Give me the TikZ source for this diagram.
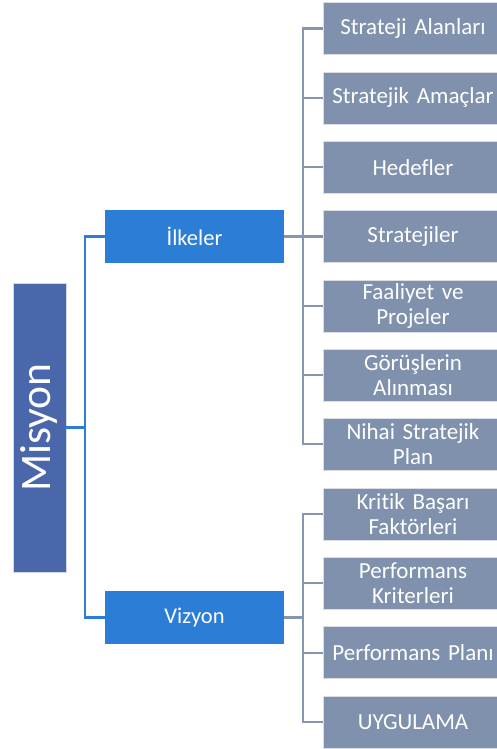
\documentclass[tikz,border=0pt]{standalone}
\usepackage{fontspec}
\setmainfont[Ligatures={NoCommon}]{Carlito}
\usetikzlibrary{positioning}
\definecolor{misyonblue}{RGB}{74,103,172}
\definecolor{headblue}{RGB}{43,125,213}
\definecolor{itemgray}{RGB}{128,145,173}
\definecolor{linkgray}{RGB}{132,151,176}

\begin{document}
\begin{tikzpicture}[
            x=1pt, y=-1pt,
            misyonbox/.style={fill=misyonblue, draw=white!75!misyonblue, rotate=90,
                minimum width=289pt, minimum height=53pt, inner sep=0pt, text=white,
                font=\fontsize{43.5}{46}\selectfont},
            headbox/.style={fill=headblue, minimum width=179pt, minimum height=53pt,
                inner sep=0pt, text=white, font=\fontsize{22.5}{25}\selectfont},
            itembox/.style={fill=itemgray, draw=white!70!itemgray, minimum width=180pt,
                minimum height=52pt, text width=178pt, align=center, inner sep=0pt,
                text=white, font=\fontsize{23}{25}\selectfont},
            mainlink/.style={draw=headblue, line width=2.2pt},
            sublink/.style={draw=linkgray, line width=2.2pt}
        ]
        \useasboundingbox (0,0) rectangle (497,749);
        \def\step{69.3}

        \node[misyonbox] (misyon) at (39.5, 427.5) {Misyon};
        \node[headbox] (ilkeler) at (194.5, 236.5) {İlkeler};
        \node[headbox] (vizyon) at (194.5, 617.5) {Vizyon};

        % right column
        \foreach \txt [count=\k] in {Strateji Alanları, Stratejik Amaçlar, Hedefler, Stratejiler,
            {Faaliyet ve\\Projeler}, {Görüşlerin\\Alınması}, {Nihai Stratejik\\Plan}}
            \node[itembox] (ilk-\k) at (413, {28.5+\step*(\k-1)}) {\txt};
        \foreach \txt [count=\k] in {{Kritik Başarı\\Faktörleri}, {Performans\\Kriterleri},
            Performans Planı, UYGULAMA}
            \node[itembox] (viz-\k) at (413, {514+\step*(\k-1)}) {\txt};

        % connectors
        \coordinate (mis-bus) at (85, 427.5);
        \coordinate (ilk-bus) at (303, 236.5);
        \coordinate (viz-bus) at (303, 617.5);
        \draw[mainlink] (misyon.south) -- (mis-bus);
        \draw[mainlink] (mis-bus) |- (ilkeler.west);
        \draw[mainlink] (mis-bus) |- (vizyon.west);

        \draw[sublink] (ilkeler.east) -- (ilk-bus);
        \foreach \k in {1,...,7}
            \draw[sublink] (ilk-bus) |- (ilk-\k.west);
        \draw[sublink] (vizyon.east) -- (viz-bus);
        \foreach \k in {1,...,4}
            \draw[sublink] (viz-bus) |- (viz-\k.west);
    \end{tikzpicture}
\end{document}
